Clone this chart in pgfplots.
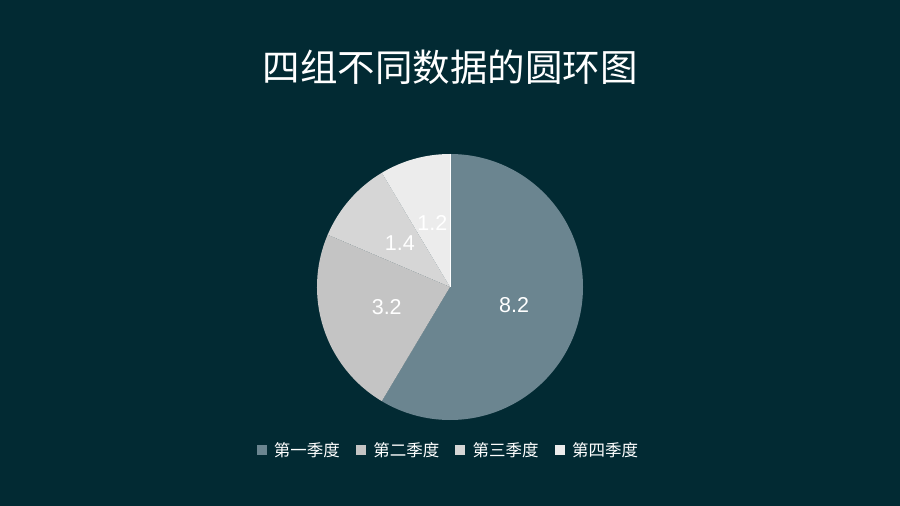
\documentclass[border=0pt]{standalone}
\usepackage{pgfplots}
\usepackage{pgfplotstable}
\pgfplotsset{compat=1.18}
\usetikzlibrary{calc}
\usepackage{fontspec}
\setmainfont{Liberation Sans}
\newfontfamily\cjk{Noto Sans CJK SC}

\definecolor{bg}{HTML}{022A33}
\definecolor{qA}{HTML}{6B8590}
\definecolor{qB}{HTML}{C4C4C4}
\definecolor{qC}{HTML}{D6D6D6}
\definecolor{qD}{HTML}{ECECEC}

\pgfplotstableread{
label value
Q1 8.2
Q2 3.2
Q3 1.4
Q4 1.2
}\piedata

\begin{document}
\begin{tikzpicture}
\fill[bg] (0,0) rectangle (900bp,506bp);
\node[text=white, font=\cjk\fontsize{37.5bp}{40bp}\selectfont] at (450bp,439bp) {四组不同数据的圆环图};

% slice angles from the table, clockwise from 12 o'clock
\pgfplotstablegetelem{0}{value}\of\piedata \let\vA\pgfplotsretval
\pgfplotstablegetelem{1}{value}\of\piedata \let\vB\pgfplotsretval
\pgfplotstablegetelem{2}{value}\of\piedata \let\vC\pgfplotsretval
\pgfplotstablegetelem{3}{value}\of\piedata \let\vD\pgfplotsretval
\pgfmathsetmacro\total{\vA+\vB+\vC+\vD}
\pgfmathsetmacro\aA{90}
\pgfmathsetmacro\aB{\aA-360*\vA/\total}
\pgfmathsetmacro\aC{\aB-360*\vB/\total}
\pgfmathsetmacro\aD{\aC-360*\vC/\total}
\pgfmathsetmacro\aE{\aD-360*\vD/\total}
\pgfmathsetmacro\mA{(\aA+\aB)/2}
\pgfmathsetmacro\mB{(\aB+\aC)/2}
\pgfmathsetmacro\mC{(\aC+\aD)/2}
\pgfmathsetmacro\mD{(\aD+\aE)/2}

\begin{axis}[
  at={(450bp,219bp)}, anchor=center,
  scale only axis, width=266bp, height=266bp,
  xmin=-1, xmax=1, ymin=-1, ymax=1,
  hide axis, clip=false,
  legend columns=4,
  legend image code/.code={\fill[#1] (0bp,-4.5bp) rectangle (9bp,4.5bp);},
  legend style={at={(axis description cs:0.49,-0.113)}, anchor=center,
    draw=none, fill=none, text=white,
    font=\cjk\fontsize{16.5bp}{18bp}\selectfont,
    column sep=8bp, nodes={inner sep=0pt},
    /tikz/every even column/.append style={column sep=16bp}},
]
\addlegendimage{qA}\addlegendentry{第一季度}
\addlegendimage{qB}\addlegendentry{第二季度}
\addlegendimage{qC}\addlegendentry{第三季度}
\addlegendimage{qD}\addlegendentry{第四季度}

\fill[qA] (axis cs:0,0) -- ++(\aA:133bp) arc[start angle=\aA, end angle=\aB, radius=133bp] -- cycle;
\fill[qB] (axis cs:0,0) -- ++(\aB:133bp) arc[start angle=\aB, end angle=\aC, radius=133bp] -- cycle;
\fill[qC] (axis cs:0,0) -- ++(\aC:133bp) arc[start angle=\aC, end angle=\aD, radius=133bp] -- cycle;
\fill[qD] (axis cs:0,0) -- ++(\aD:133bp) arc[start angle=\aD, end angle=\aE, radius=133bp] -- cycle;
\draw[white, line width=0.6bp] (axis cs:0,0) -- ++(90:133bp);

\begin{scope}[every node/.style={text=white, font=\fontsize{21.5bp}{24bp}\selectfont}]
\node at ($(axis cs:0,0)+(\mA:66.5bp)$) {\vA};
\node at ($(axis cs:0,0)+(\mB:66.5bp)$) {\vB};
\node at ($(axis cs:0,0)+(\mC:66.5bp)$) {\vC};
\node at ($(axis cs:0,0)+(\mD:66.5bp)$) {\vD};
\end{scope}
\end{axis}
\end{tikzpicture}
\end{document}
